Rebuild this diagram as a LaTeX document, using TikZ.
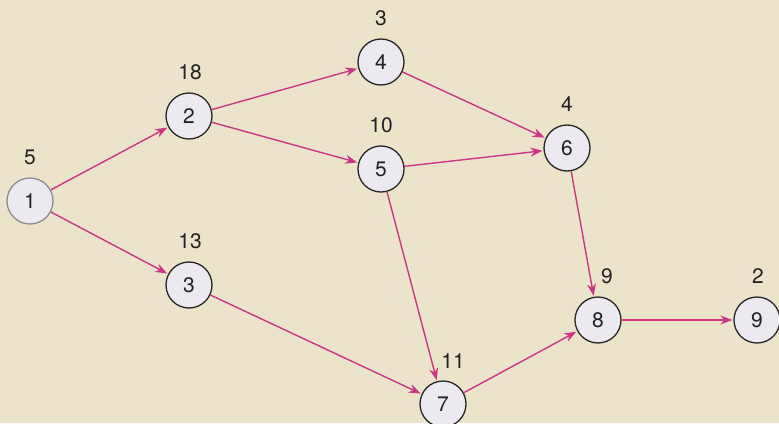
\documentclass[tikz,border=0pt]{standalone}
\usepackage{fontspec}
\setmainfont{TeX Gyre Heros}
\usetikzlibrary{arrows.meta}
\definecolor{bg}{HTML}{EBE4CB}
\definecolor{nodefill}{HTML}{ECEAF0}
\definecolor{edgecol}{HTML}{CC3584}
\definecolor{txt}{HTML}{222222}
\tikzset{
  job/.style={circle, draw=black!85, line width=1.3pt, fill=nodefill, minimum size=46pt, inner sep=0pt, font=\fontsize{21}{21}\selectfont, text=txt},
  dur/.style={font=\fontsize{21}{21}\selectfont, text=txt, inner sep=0pt},
  link/.style={draw=edgecol, line width=1.4pt, -{Stealth[length=12pt,width=9pt]}, shorten >=1pt}
}
\begin{document}
\begin{tikzpicture}[x=1pt,y=-1pt]
\fill[bg] (0,0) rectangle (779,423);
\useasboundingbox (0,0) rectangle (779,423);
\node[job, draw=black!45] (n1) at (30,201) {1};
\node[job] (n2) at (189,116) {2};
\node[job] (n3) at (189,285) {3};
\node[job] (n4) at (381,62) {4};
\node[job] (n5) at (381,169) {5};
\node[job] (n6) at (567,148) {6};
\node[job] (n7) at (443,404) {7};
\node[job] (n8) at (598,320) {8};
\node[job] (n9) at (757,320) {9};
\node[dur] (d1) at (30,157) {5};
\node[dur] (d2) at (190,72) {18};
\node[dur] (d3) at (190,241) {13};
\node[dur] (d4) at (381,18) {3};
\node[dur] (d5) at (381,125) {10};
\node[dur] (d6) at (567,104) {4};
\node[dur] (d7) at (453,361) {11};
\node[dur] (d8) at (607,276) {9};
\node[dur] (d9) at (758,276) {2};
\draw[link] (n1) -- (n2);
\draw[link] (n1) -- (n3);
\draw[link] (n2) -- (n4);
\draw[link] (n2) -- (n5);
\draw[link] (n4) -- (n6);
\draw[link] (n5) -- (n6);
\draw[link] (n5) -- (n7);
\draw[link] (n3) -- (n7);
\draw[link] (n6) -- (n8);
\draw[link] (n7) -- (n8);
\draw[link] (n8) -- (n9);
\end{tikzpicture}
\end{document}
